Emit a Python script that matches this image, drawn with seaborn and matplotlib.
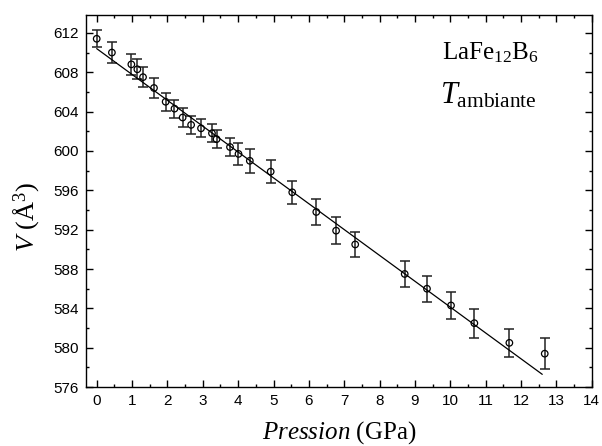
import matplotlib as mpl
import seaborn as sns
import pandas as pd
import numpy as np
plt = mpl.pyplot

# Data
pression = [0.0, 0.43, 0.98, 1.15, 1.31, 1.62, 1.95, 2.2, 2.43, 2.67, 2.95, 3.26,
            3.39, 3.77, 4.01, 4.33, 4.92, 5.53, 6.21, 6.77, 7.31, 8.71, 9.34,
            10.02, 10.68, 11.67, 12.67]
volume = [611.4, 610.0, 608.8, 608.3, 607.5, 606.4, 605.0, 604.3, 603.4, 602.65,
          602.3, 601.8, 601.2, 600.4, 599.7, 599.0, 597.9, 595.8, 593.8, 591.9,
          590.5, 587.5, 586.0, 584.3, 582.5, 580.5, 579.4]
erreur = [0.88, 1.07, 1.07, 1.03, 1.02, 0.97, 0.9, 0.9, 0.93, 0.92, 0.92, 0.92,
          0.92, 0.95, 1.1, 1.19, 1.17, 1.15, 1.32, 1.34, 1.29, 1.29, 1.34,
          1.4, 1.47, 1.39, 1.56]
fit_p = [0.0, 12.6]
fit_v = [610.4, 577.3]

data = pd.DataFrame({'P': pression, 'V': volume, 'err': erreur})
fit = pd.DataFrame({'P': fit_p, 'V': fit_v})

sns.set_style("ticks")
mpl.rcParams['font.family'] = ['Liberation Sans', 'DejaVu Sans']
mpl.rcParams['mathtext.fontset'] = 'custom'
mpl.rcParams['mathtext.rm'] = 'Liberation Serif'
mpl.rcParams['mathtext.it'] = 'Liberation Serif:italic'
for k in ['text.color', 'axes.labelcolor', 'xtick.color', 'ytick.color', 'axes.edgecolor']:
    mpl.rcParams[k] = 'black'

fig = plt.figure(figsize=(6.02, 4.46), dpi=100)
ax = fig.add_axes([0.143, 0.132, 0.84, 0.834])

ax.errorbar(data['P'], data['V'], yerr=data['err'], fmt='none', ecolor='#222222',
            elinewidth=1.1, capsize=3.5, capthick=1.1)
sns.lineplot(x='P', y='V', data=fit, color='black', linewidth=0.9, ax=ax)
sns.scatterplot(x='P', y='V', data=data, marker='o', s=22, facecolor='none',
                edgecolor='black', linewidth=0.9, ax=ax, zorder=3)

ax.set_xlim(-0.3, 14)
ax.set_ylim(576, 613.8)
ax.set_xticks(np.arange(0, 15, 1))
ax.set_xticks(np.arange(0, 14.1, 0.5), minor=True)
ax.set_yticks(np.arange(576, 613, 4))
ax.set_yticks(np.arange(576, 614, 2), minor=True)
ax.tick_params(direction='in', which='both', top=True, right=True, labelsize=11,
               width=1.0)
ax.tick_params(which='major', length=5, pad=5)
ax.tick_params(which='minor', length=2.5)
for s in ax.spines.values():
    s.set_linewidth(1.0)

ax.set_xlabel(r'$Pression$ (GPa)', family='Liberation Serif', fontsize=18)
ax.xaxis.set_label_coords(0.5, -0.085)
ax.xaxis.label.set_va('top')
ax.set_ylabel(r'$V$ (Å$^{3}$)', family='Liberation Serif', fontsize=19)
ax.yaxis.set_label_coords(-0.088, 0.457)

ax.text(0.80, 0.90, r'LaFe$_{12}$B$_{6}$', transform=ax.transAxes, ha='center',
        va='center', family='Liberation Serif', fontsize=18)
ax.text(0.795, 0.785, r'$T_{\mathrm{ambiante}}$', transform=ax.transAxes, ha='center',
        va='center', fontsize=22)

plt.savefig('out.png', dpi=100)
